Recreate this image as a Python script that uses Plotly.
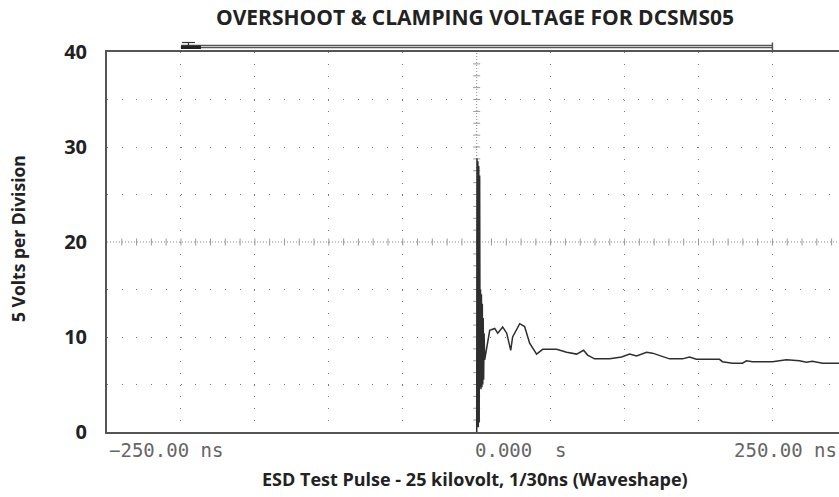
import numpy as np
import plotly.graph_objects as go

# ---- data ----
t_ns = [0.0, 0.2, 0.5, 0.8, 1.1, 1.4, 1.7, 2.0, 2.3, 2.6, 2.9, 3.2, 3.5, 3.8,
        4.1, 4.4, 4.7, 5.0, 5.4, 8.8, 12.2, 14.2, 17.6, 20.3, 23.0, 24.3,
        29.1, 32.4, 35.8, 40.5, 44.6, 54.1, 60.8, 67.6, 72.3, 75.0, 79.7,
        89.9, 98.0, 103.4, 108.1, 114.9, 118.9, 130.4, 139.2, 143.9, 148.6,
        164.2, 166.2, 173.0, 179.7, 182.4, 186.5, 200.0, 209.5, 218.2, 223.0,
        227.0, 233.8, 245.0]
volts = [0.0, 28.8, 0.5, 28.5, 0.5, 28.0, 1.0, 27.0, 4.7, 15.0, 4.5, 14.5, 4.7, 13.5,
         5.0, 12.0, 5.5, 10.4, 7.6, 10.7, 10.9, 10.4, 11.05, 10.4, 8.6, 10.0,
         11.4, 11.1, 9.35, 8.2, 8.7, 8.7, 8.4, 8.2, 8.6, 8.1, 7.7,
         7.7, 7.9, 8.2, 8.0, 8.4, 8.3, 7.7, 7.7, 7.9, 7.65,
         7.65, 7.4, 7.25, 7.25, 7.5, 7.4, 7.4, 7.6, 7.5, 7.35,
         7.45, 7.25, 7.25]

x_label_vals = [-250, 0, 250]
x_label_text = ["\u2212250.00 ns", "0.000\u00a0\u00a0s", "250.00 ns"]
x_grid_vals = [-200, -150, -100, -50, 50, 100, 150, 200]
y_tick_vals = [0, 10, 20, 30, 40]
y_tick_text = ["0", "10", "20", "30", "40"]
y_grid_vals = [5, 10, 15, 25, 30, 35]

title_text = "OVERSHOOT & CLAMPING VOLTAGE FOR DCSMS05"
x_title = "ESD Test Pulse - 25 kilovolt, 1/30ns (Waveshape)"
y_title = "5 Volts per Division"

XMIN, XMAX = -250, 245
YMIN, YMAX = 0, 40

W, H = 839, 497
ML, MR, MT, MB = 107, 0, 52, 65
PW, PH = W - ML - MR, H - MT - MB

def xp(t):
    return (t - XMIN) / (XMAX - XMIN)

GRID = "#7a7a7a"
FRAME = "#555555"
FONT = "Open Sans"

fig = go.Figure()

# crosshair tick marks (decoration of the centre graticule lines)
cx = np.arange(-240, 245, 10)
fig.add_trace(go.Scatter(x=cx, y=np.full(len(cx), 20.0), mode="markers",
                         marker=dict(symbol="line-ns", size=5, line=dict(color="#999999", width=1)),
                         hoverinfo="skip", showlegend=False))
cy = np.arange(1.25, 40, 1.25)
fig.add_trace(go.Scatter(x=np.zeros(len(cy)), y=cy, mode="markers",
                         marker=dict(symbol="line-ew", size=5, line=dict(color="#999999", width=1)),
                         hoverinfo="skip", showlegend=False))

fig.add_trace(go.Scatter(x=t_ns, y=volts, mode="lines",
                         line=dict(color="#2e2e2e", width=1.5),
                         hoverinfo="skip", showlegend=False))

shapes = [
    dict(type="line", xref="x", yref="y", x0=XMIN, x1=XMAX, y0=20, y1=20,
         line=dict(color="#8a8a8a", width=1, dash="1px,2px"), layer="below"),
    dict(type="line", xref="x", yref="y", x0=0, x1=0, y0=YMIN, y1=YMAX,
         line=dict(color="#8a8a8a", width=1, dash="1px,2px"), layer="below"),
]
# memory bar above the graticule
bx0, bx1 = xp(-200), xp(200)
def py(px):
    return 1 + px / PH
shapes += [
    dict(type="line", xref="paper", yref="paper", x0=bx0, x1=bx1, y0=py(5.5), y1=py(5.5),
         line=dict(color=FRAME, width=3.5)),
    dict(type="line", xref="paper", yref="paper", x0=bx0, x1=bx1, y0=py(5.5), y1=py(5.5),
         line=dict(color="#c8c8c8", width=1)),
    dict(type="line", xref="paper", yref="paper", x0=bx1, x1=bx1, y0=py(2), y1=py(9.5),
         line=dict(color=FRAME, width=1.5)),
    dict(type="rect", xref="paper", yref="paper", x0=bx0, x1=bx0 + 20 / PW, y0=py(3), y1=py(6.5),
         line=dict(width=0), fillcolor="#222222"),
    dict(type="line", xref="paper", yref="paper", x0=bx0 + 1 / PW, x1=bx0 + 14 / PW, y0=py(9.5), y1=py(9.5),
         line=dict(color="#333333", width=1.2)),
    dict(type="line", xref="paper", yref="paper", x0=bx0 + 7.5 / PW, x1=bx0 + 7.5 / PW, y0=py(9.5), y1=py(6),
         line=dict(color="#333333", width=1.2)),
]

annotations = []
for v, txt in zip(x_label_vals, x_label_text):
    if v == XMIN:
        ax, anchor = xp(v), "left"
    elif v > XMAX:
        ax, anchor = 1.0, "right"
    else:
        ax, anchor = xp(v) - 4 / PW, "left"
    annotations.append(dict(x=ax, y=-18 / PH, xref="paper", yref="paper", text=txt,
                            showarrow=False, xanchor=anchor, yanchor="middle",
                            font=dict(family="DejaVu Sans Mono", size=19, color="#666666")))
annotations.append(dict(x=(475 - ML) / PW, y=-(479 - 432) / PH, xref="paper", yref="paper",
                        text=x_title, showarrow=False, xanchor="center", yanchor="middle",
                        font=dict(family=FONT, size=18, color="#222222", weight="bold")))
annotations.append(dict(x=(18 - ML) / PW, y=(432 - 239) / PH, xref="paper", yref="paper",
                        text=y_title, showarrow=False, xanchor="center", yanchor="middle",
                        textangle=-90,
                        font=dict(family=FONT, size=17.5, color="#222222", weight="bold")))

fig.update_layout(
    width=W, height=H, autosize=False,
    margin=dict(l=ML, r=MR, t=MT, b=MB, pad=0),
    paper_bgcolor="white", plot_bgcolor="white",
    title=dict(text=title_text, x=(475) / W, xref="container", xanchor="center",
               y=1 - 18 / H, yref="container", yanchor="middle",
               font=dict(family=FONT, size=21, color="#222222", weight="bold")),
    shapes=shapes, annotations=annotations,
    showlegend=False,
    xaxis=dict(range=[XMIN, XMAX], tickvals=x_label_vals, showticklabels=False,
               showgrid=False, zeroline=False, ticks="",
               showline=True, linecolor=FRAME, linewidth=2, mirror=True,
               minor=dict(tickvals=x_grid_vals, showgrid=True, gridcolor=GRID,
                          gridwidth=1, griddash="1px,10.875px", ticks="")),
    yaxis=dict(range=[YMIN, YMAX], tickvals=y_tick_vals, ticktext=y_tick_text,
               showgrid=False, zeroline=False, ticks="",
               ticklabelstandoff=14,
               tickfont=dict(family=FONT, size=20, color="#222222", weight="bold"),
               showline=True, linecolor=FRAME, linewidth=2,
               minor=dict(tickvals=y_grid_vals, showgrid=True, gridcolor=GRID,
                          gridwidth=1, griddash="1px,13.74px", ticks="")),
)

fig.write_html("out.html", config={"displayModeBar": False, "staticPlot": True})

# remove the browser's default page margin so the figure sits at (0, 0)
with open("out.html", "r", encoding="utf-8") as f:
    html = f.read()
html = html.replace("<head>", "<head><style>html,body{margin:0;padding:0;overflow:hidden;}</style>", 1)
with open("out.html", "w", encoding="utf-8") as f:
    f.write(html)
